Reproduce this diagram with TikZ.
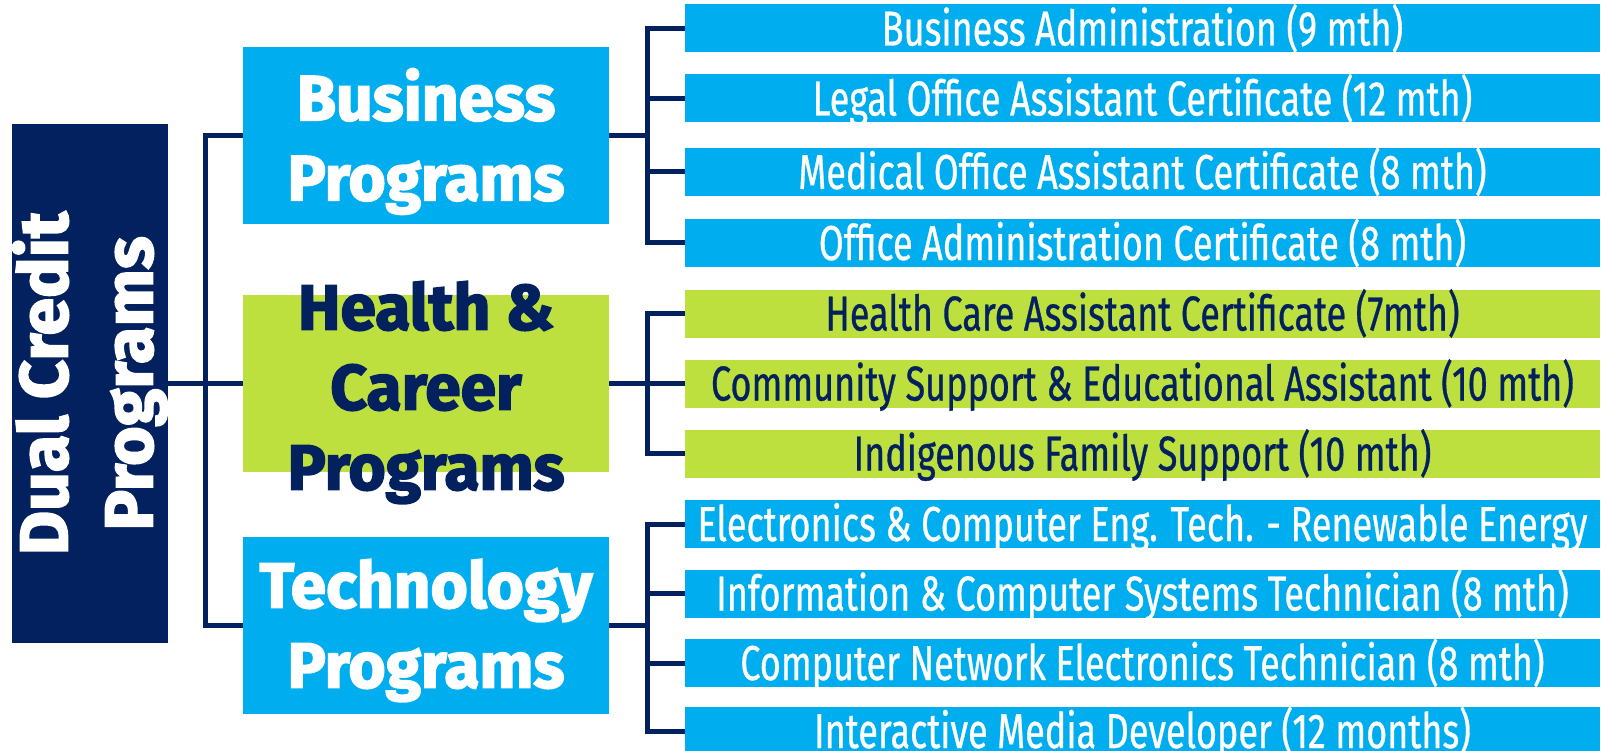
\documentclass[tikz,border=0pt]{standalone}
\usepackage{fontspec}
\setmainfont{Fira Sans}
\newfontfamily\itemfont[FakeStretch=0.735,FakeBold=0.6]{Fira Sans}
\newfontfamily\headfont[FakeBold=2.5]{Fira Sans}
\definecolor{navy}{HTML}{03215E}
\definecolor{skyblue}{HTML}{00AEEF}
\definecolor{lime}{HTML}{BDE03F}

\begin{document}
\begin{tikzpicture}[x=1pt,y=-1pt,
  course/.style={minimum width=915pt,minimum height=48pt,inner sep=0pt,
    text height=34pt,text depth=0pt,font=\itemfont\fontsize{49}{49}\selectfont},
  bluecourse/.style={course,fill=skyblue,text=white},
  greencourse/.style={course,fill=lime,text=navy},
  group/.style={minimum width=366pt,minimum height=177pt,inner sep=0pt},
  grouptext/.style={inner sep=0pt,align=center,font=\headfont\bfseries\fontsize{64}{80}\selectfont},
  conn/.style={draw=navy,line width=5pt}]
\useasboundingbox (0,0) rectangle (1602,751);
\clip (0,0) rectangle (1602,751);

\node[fill=navy,text=white,rotate=90,minimum width=519pt,minimum height=156pt,inner sep=0pt,
  align=center,font=\headfont\bfseries\fontsize{68}{85}\selectfont] (dual) at (90,383.5) {Dual Credit\\Programs};

\node[group,fill=skyblue] (bus) at (426,135.5) {};
\node[group,fill=lime] (hea) at (426,383.5) {};
\node[group,fill=skyblue] (tec) at (426,625.5) {};
\node[grouptext,text=white] (bustxt) at (426,141.5) {Business\\Programs};
\node[grouptext,text=navy] (heatxt) at (426,392.5) {Health \&\\Career\\Programs};
\node[grouptext,text=white] (tectxt) at (426,630.5) {Technology\\Programs};

% business
\node[bluecourse] (b1) at (1142.5,28.5) {Business Administration (9 mth)};
\node[bluecourse] (b2) at (1142.5,98.5) {Legal Office Assistant Certificate (12 mth)};
\node[bluecourse] (b3) at (1142.5,172) {Medical Office Assistant Certificate (8 mth)};
\node[bluecourse] (b4) at (1142.5,243) {Office Administration Certificate (8 mth)};

% health & career
\node[greencourse] (h1) at (1142.5,313.5) {Health Care Assistant Certificate (7mth)};
\node[greencourse] (h2) at (1142.5,383.5) {Community Support \& Educational Assistant (10 mth)};
\node[greencourse] (h3) at (1142.5,453.5) {Indigenous Family Support (10 mth)};

% technology
\node[bluecourse] (t1) at (1142.5,524) {Electronics \& Computer Eng. Tech. - Renewable Energy};
\node[bluecourse] (t2) at (1142.5,593.5) {Information \& Computer Systems Technician (8 mth)};
\node[bluecourse] (t3) at (1142.5,663) {Computer Network Electronics Technician (8 mth)};
\node[bluecourse] (t4) at (1142.5,731) {Interactive Media Developer (12 months)};

% connectors
\coordinate (mj) at (205,383.5);
\coordinate (bj) at (647,135.5);
\coordinate (hj) at (647,383.5);
\coordinate (tj) at (647,625.5);

\draw[conn] (dual) -- (hea.west);
\draw[conn] (bus.west) -| (mj) |- (tec.west);

\draw[conn] (bus.east) -- (bj);
\draw[conn] (b1.west) -| (bj) |- (b4.west);
\draw[conn] (b2.west) -- (b2.west -| bj);
\draw[conn] (b3.west) -- (b3.west -| bj);

\draw[conn] (hea.east) -- (h2.west);
\draw[conn] (h1.west) -| (hj) |- (h3.west);

\draw[conn] (tec.east) -- (tj);
\draw[conn] (t1.west) -| (tj) |- (t4.west);
\draw[conn] (t2.west) -- (t2.west -| tj);
\draw[conn] (t3.west) -- (t3.west -| tj);

\end{tikzpicture}
\end{document}
